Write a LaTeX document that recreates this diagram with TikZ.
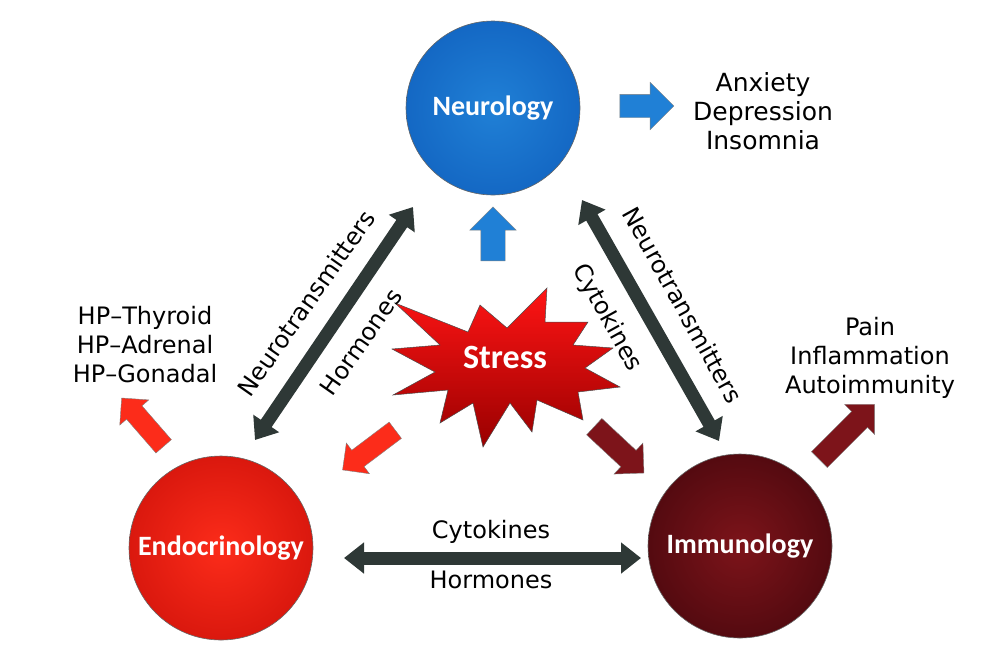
\documentclass[tikz,border=0pt]{standalone}
\usepackage{fontspec}
\setmainfont{DejaVu Sans}
\newfontfamily\ballfont{Carlito}
\usetikzlibrary{arrows.meta,shapes.arrows}

\definecolor{neuroblue}{RGB}{32,128,214}
\definecolor{neuroedge}{RGB}{20,104,196}
\definecolor{endored}{RGB}{252,44,26}
\definecolor{endoedge}{RGB}{218,24,14}
\definecolor{immunored}{RGB}{125,20,26}
\definecolor{immunoedge}{RGB}{84,10,16}
\definecolor{linkgrey}{RGB}{46,56,54}

\begin{document}
\begin{tikzpicture}[x=1pt,y=1pt,yscale=-1,xscale=1,
  ball/.style={circle,inner sep=0pt,text=white,shading=radial,draw=black!60,line width=0.6pt,
    font=\ballfont\bfseries\fontsize{28}{32}\selectfont},
  link/.style={line width=13pt,draw=linkgrey,
    {Triangle[length=20pt,width=30pt]}-{Triangle[length=20pt,width=30pt]}},
  fatarrow/.style={single arrow,inner xsep=0pt,draw=black!50,line width=0.4pt},
  lbl/.style={align=center,font=\fontsize{24}{29}\selectfont}
]
\useasboundingbox (0,0) rectangle (1000,657);

%Shape: Circles
\node [ball,minimum size=174pt,inner color=neuroblue,outer color=neuroedge] (neuro) at (493,108) {Neurology};
\node [ball,minimum size=184pt,inner color=endored,outer color=endoedge] (endo) at (221,548) {Endocrinology};
\node [ball,minimum size=184pt,inner color=immunored,outer color=immunoedge] (immuno) at (740,546) {Immunology};

%Shape: Starburst
\draw [draw=black!70,line width=0.5pt,top color=red!92!white,bottom color=red!60!black]
  (395,303) -- (468,332) -- (480,305) -- (507,328) -- (547,288) -- (545,322) -- (588,322)
  -- (573,345) -- (613,348) -- (585,368) -- (620,387) -- (578,392) -- (583,420) -- (537,400)
  -- (532,432) -- (510,403) -- (483,447) -- (473,403) -- (440,423) -- (448,390) -- (393,395)
  -- (435,372) -- (392,349) -- (440,345) -- cycle;
\node [text=white,font=\ballfont\bfseries\fontsize{34}{38}\selectfont] (stress) at (505,357) {Stress};

%Shape: Double arrows
\coordinate (ltop) at (413,207);
\coordinate (lbot) at (255,440);
\coordinate (rtop) at (582,200);
\coordinate (rbot) at (719,441);
\coordinate (hleft) at (344,558);
\coordinate (hright) at (641,558);
\draw [link] (ltop) -- (lbot);
\draw [link] (rtop) -- (rbot);
\draw [link] (hleft) -- (hright);

%Shape: Block arrows
\node [fatarrow,fill=neuroblue,minimum height=54pt,inner ysep=11.5pt,single arrow head extend=12pt] (toSymptoms) at (641,106) {};
\node [fatarrow,fill=neuroblue,minimum height=54pt,inner ysep=12pt,single arrow head extend=11pt,rotate=90] (toNeuro) at (493,240) {};
\node [fatarrow,fill=endored,minimum height=64pt,inner ysep=10pt,single arrow head extend=9pt,rotate=131] (toAxes) at (146,426) {};
\node [fatarrow,fill=endored,minimum height=66pt,inner ysep=10pt,single arrow head extend=9pt,rotate=217] (toEndo) at (373,447) {};
\node [fatarrow,fill=immunored,minimum height=68pt,inner ysep=11pt,single arrow head extend=10pt,rotate=-43] (toImmuno) at (615,446) {};
\node [fatarrow,fill=immunored,minimum height=78pt,inner ysep=11pt,single arrow head extend=10pt,rotate=45] (toPain) at (843,436) {};

% Text Node
\node [lbl,font=\fontsize{25}{29}\selectfont] (symptoms) at (763,111) {Anxiety\\Depression\\Insomnia};
% Text Node
\node [lbl] (axes) at (145,345) {HP--Thyroid\\HP--Adrenal\\HP--Gonadal};
% Text Node
\node [lbl] (immune) at (870,358) {Pain\\Inflammation\\Autoimmunity};
% Text Node
\node [lbl,rotate=55] (lneuro) at (306,303) {Neurotransmitters};
% Text Node
\node [lbl,rotate=55] (lhorm) at (361,342) {Hormones};
% Text Node
\node [lbl,rotate=-61] (rneuro) at (683,305) {Neurotransmitters};
% Text Node
\node [lbl,rotate=-61] (rcyto) at (607,318) {Cytokines};
% Text Node
\node [lbl] (hcyto) at (491,532) {Cytokines};
% Text Node
\node [lbl] (hhorm) at (491,580) {Hormones};

\end{tikzpicture}
\end{document}
